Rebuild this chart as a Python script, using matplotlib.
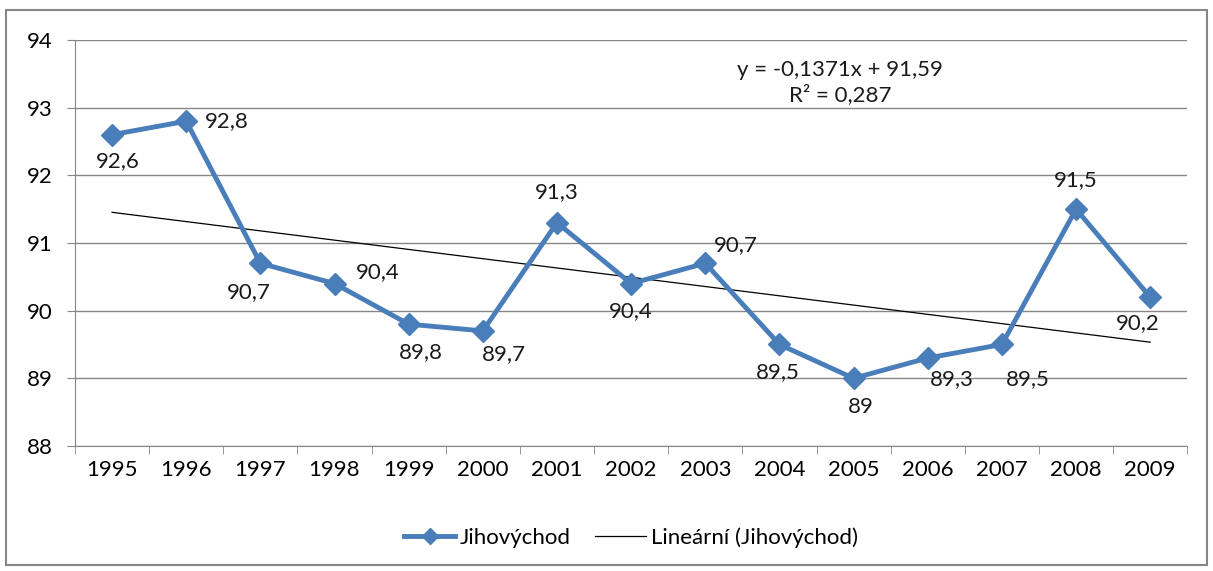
import numpy as np
import matplotlib.pyplot as plt
from matplotlib.patches import Rectangle

roky = ['1995', '1996', '1997', '1998', '1999', '2000', '2001', '2002',
        '2003', '2004', '2005', '2006', '2007', '2008', '2009']
hodnoty = [92.6, 92.8, 90.7, 90.4, 89.8, 89.7, 91.3, 90.4,
           90.7, 89.5, 89.0, 89.3, 89.5, 91.5, 90.2]
popisky = ['92,6', '92,8', '90,7', '90,4', '89,8', '89,7', '91,3', '90,4',
           '90,7', '89,5', '89', '89,3', '89,5', '91,5', '90,2']
# koeficienty trendu podle rovnice v grafu
smernice = -0.1371
posun = 91.59

# posun popisku v bodech (ruzne jako v Excelu)
offsety = [(4, -19), (29, 0), (-8, -21), (31, 8), (9, -20), (15, -17),
           (0, 22), (0, -20), (22, 13), (-1, -20), (5, -21), (17, -15),
           (19, -25), (0, 21), (-9, -19)]

plt.rcParams['font.family'] = ['Lato', 'DejaVu Sans']
modra = '#4a7ebb'
seda = '#868686'
fs = 16

fig = plt.figure(figsize=(12.13, 5.71), dpi=100)
ax = fig.add_axes([0.0618, 0.219, 0.917, 0.711])

x = np.arange(len(roky))
ax.plot(x, hodnoty, color=modra, lw=3.5, marker='D', ms=11,
        label='Jihovýchod', zorder=3)
trend = smernice * (x + 1) + posun
ax.plot(x, trend, color='black', lw=0.9, label='Lineární (Jihovýchod)', zorder=2)

for i in range(len(roky)):
    ax.annotate(popisky[i], (x[i], hodnoty[i]), xytext=offsety[i],
                textcoords='offset points', ha='center', va='center',
                fontsize=fs, color='#1a1a1a')

ax.text(0.688, 0.895, 'y = -0,1371x + 91,59\nR² = 0,287', transform=ax.transAxes,
        ha='center', va='center', fontsize=fs, linespacing=1.25, color='#1a1a1a')

ax.set_xlim(-0.5, len(roky) - 0.5)
ax.set_ylim(88, 94)
ax.set_yticks(range(88, 95))
ax.set_xticks(x)
ax.set_xticklabels(roky)
ax.set_xticks(np.arange(-0.5, len(roky)), minor=True)
ax.tick_params(axis='x', which='major', length=0, pad=10, labelsize=fs)
ax.tick_params(axis='x', which='minor', length=6, color=seda, direction='out')
ax.tick_params(axis='y', length=6, color=seda, labelsize=fs, pad=10)
ax.grid(axis='y', color=seda, lw=1)
ax.set_axisbelow(True)
for s in ['top', 'right']:
    ax.spines[s].set_visible(False)
for s in ['left', 'bottom']:
    ax.spines[s].set_color(seda)

leg = ax.legend(loc='center', bbox_to_anchor=(0.5, -0.225), ncol=2, frameon=False,
                fontsize=fs, handlelength=2.3, columnspacing=1.1, handletextpad=0.2)
leg.legend_handles[0].set_markersize(8)

fig.patches.append(Rectangle((6 / 1213, 6 / 571), 1201 / 1213, 555 / 571,
                             transform=fig.transFigure, fill=False,
                             edgecolor=seda, lw=1.5))

fig.savefig('out.png', dpi=100)
